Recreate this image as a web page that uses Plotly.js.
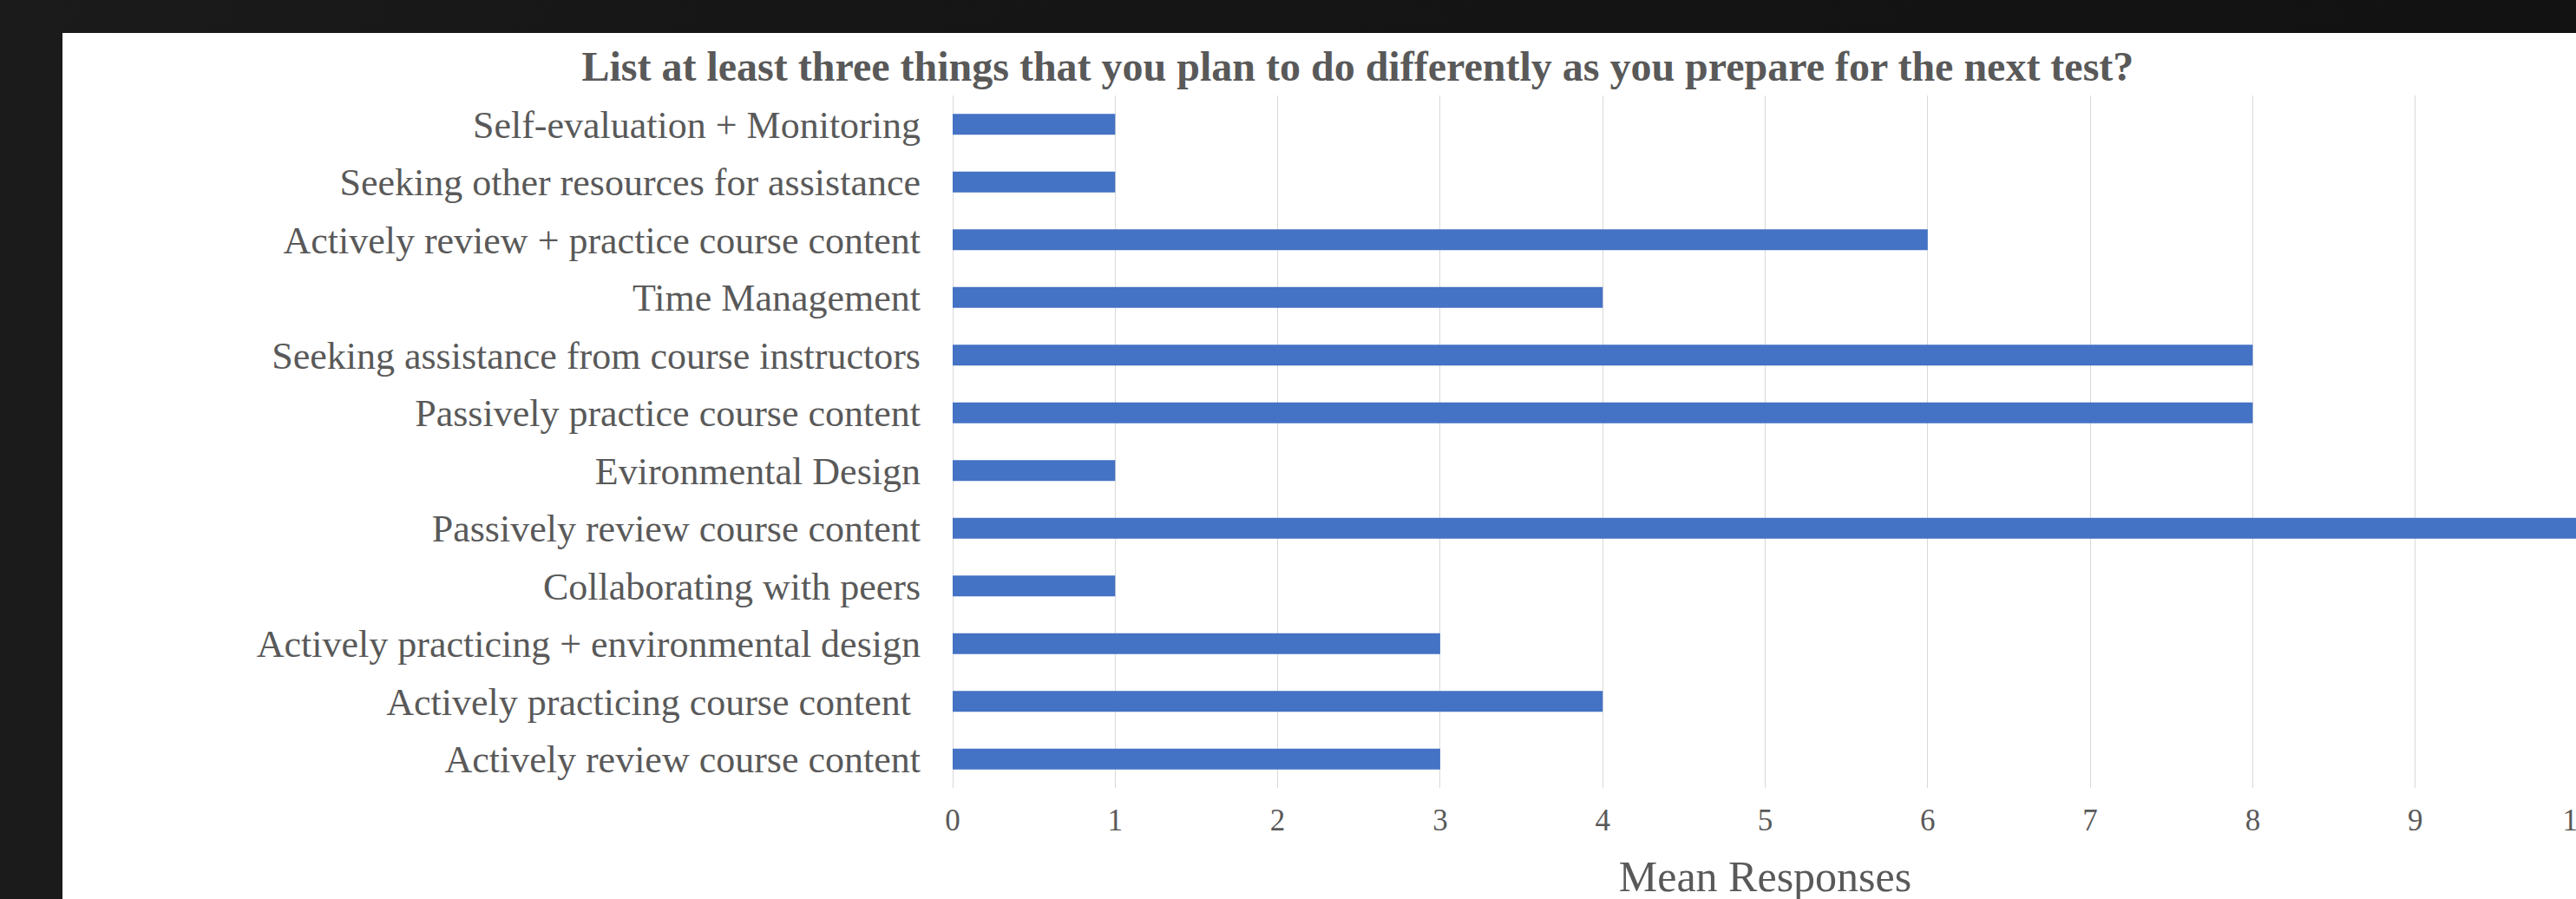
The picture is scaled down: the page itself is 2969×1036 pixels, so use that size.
<!DOCTYPE html>
<html>
<head>
<meta charset="utf-8">
<script src="https://cdn.plot.ly/plotly-3.0.1.min.js"></script>
<style>
  html, body { margin: 0; padding: 0; width: 2969px; height: 1036px; overflow: hidden;
    background: linear-gradient(90deg, #1b1b1b 0%, #161616 30%, #121212 100%); }
  #chart { position: absolute; left: 72px; top: 38px; width: 2999px; height: 1000px; background: #ffffff; }
</style>
</head>
<body>
<div id="chart"></div>
<script>
const categories = [
  "Self-evaluation + Monitoring",
  "Seeking other resources for assistance",
  "Actively review + practice course content",
  "Time Management",
  "Seeking assistance from course instructors",
  "Passively practice course content",
  "Evironmental Design",
  "Passively review course content",
  "Collaborating with peers",
  "Actively practicing + environmental design",
  "Actively practicing course content ",
  "Actively review course content"
];
const meanResponses = [1, 1, 6, 4, 8, 8, 1, 10, 1, 3, 4, 3];
const xTickValues = [0, 1, 2, 3, 4, 5, 6, 7, 8, 9, 10];
const chartTitle = "List at least three things that you plan to do differently as you prepare for the next test?";
const xAxisTitle = "Mean Responses";

const fontFamily = '"Liberation Serif", "Times New Roman", Times, serif';
const textColor = '#595959';

const trace = {
  type: 'bar',
  orientation: 'h',
  x: meanResponses,
  y: categories,
  marker: { color: '#4472C4' },
  hoverinfo: 'x+y'
};

const layout = {
  width: 2999,
  height: 1000,
  paper_bgcolor: '#ffffff',
  plot_bgcolor: '#ffffff',
  margin: { l: 1026, r: 100, t: 72, b: 130 },
  bargap: 0.64,
  showlegend: false,
  font: { family: fontFamily, color: textColor },
  title: {
    text: '<b>' + chartTitle + '</b>',
    font: { family: fontFamily, size: 48, color: textColor },
    xref: 'container', x: 0.4978, xanchor: 'center',
    yref: 'container', y: 0.962, yanchor: 'middle'
  },
  xaxis: {
    range: [0, 10],
    tickvals: xTickValues,
    showgrid: true,
    gridcolor: '#d9d9d9',
    gridwidth: 1,
    zeroline: true,
    zerolinecolor: '#d9d9d9',
    zerolinewidth: 1,
    showline: false,
    ticks: '',
    ticklabelstandoff: 13,
    tickfont: { family: fontFamily, size: 35, color: textColor },
    title: {
      text: xAxisTitle,
      font: { family: fontFamily, size: 50, color: textColor },
      standoff: 38
    }
  },
  yaxis: {
    type: 'category',
    autorange: 'reversed',
    showgrid: false,
    zeroline: false,
    showline: false,
    ticks: '',
    ticklabelstandoff: 36,
    tickfont: { family: fontFamily, size: 44, color: textColor }
  }
};

Plotly.newPlot('chart', [trace], layout, { displayModeBar: false, staticPlot: true });
</script>
</body>
</html>
